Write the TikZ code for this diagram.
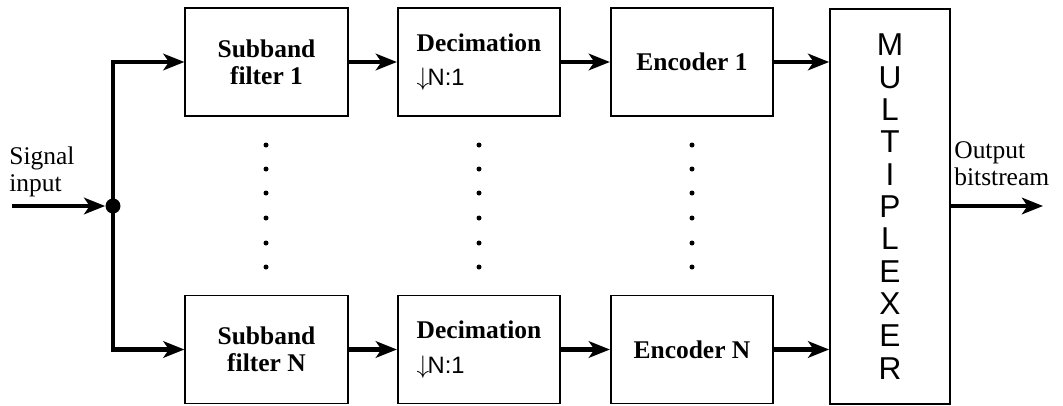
\documentclass[tikz,border=0pt]{standalone}
\usepackage{fontspec}
\setmainfont{Liberation Serif}
\setsansfont{Liberation Sans}
\usetikzlibrary{arrows.meta,positioning}

\begin{document}
\begin{tikzpicture}[
  >={Stealth[length=4.2mm,width=3.3mm,inset=1.1mm]},
  every node/.style={font=\fontsize{14.5}{15.5}\selectfont},
  block/.style={draw, line width=1pt, minimum width=3.25cm,
                minimum height=2.16cm, align=center,
                font=\fontsize{14.5}{15.5}\selectfont\bfseries},
  decim/.style={block, align=left},
  flow/.style={->, line width=2.8pt}
]
  \useasboundingbox (0,0) rectangle (21.26,8.1);

  \node[block] (sub1) at (5.33, 6.86) {Subband\\filter 1};
  \node[decim] (dec1) at (9.58, 6.86) {Decimation\\[4pt]{\fontsize{13.5}{14}\selectfont\mdseries\sffamily\(\downarrow\)\kern-1ptN:1}};
  \node[block] (enc1) at (13.84, 6.86) {Encoder 1};
  \node[block] (subN) at (5.33, 1.11) {Subband\\filter N};
  \node[decim] (decN) at (9.58, 1.11) {Decimation\\[4pt]{\fontsize{13.5}{14}\selectfont\mdseries\sffamily\(\downarrow\)\kern-1ptN:1}};
  \node[block] (encN) at (13.84, 1.11) {Encoder N};
  \node[draw, line width=1pt, minimum width=2.4cm, minimum height=7.9cm,
        align=center, font=\fontsize{18}{18.4}\selectfont\sffamily]
        (mux) at (17.8, 3.97) {M\\U\\L\\T\\I\\P\\L\\E\\X\\E\\R};

  \coordinate (in) at (0.24, 3.98);
  \coordinate (out) at (20.86, 3.98);
  \node[circle, fill, inner sep=0pt, minimum size=3mm] (j) at (2.26, 3.98) {};

  \node[anchor=south west, align=left, inner sep=0pt] (sig) at (0.18, 4.15) {Signal\\input};
  \node[anchor=south west, align=left, inner sep=0pt] (obs) at (19.08, 4.38) {Output\\bitstream};

  \draw[flow] (in) -- (j);
  \draw[flow] (j.center) |- (sub1.west);
  \draw[flow] (j.center) |- (subN.west);
  \draw[flow] (sub1) -- (dec1);
  \draw[flow] (dec1) -- (enc1);
  \draw[flow] (enc1) -- (enc1 -| mux.west);
  \draw[flow] (subN) -- (decN);
  \draw[flow] (decN) -- (encN);
  \draw[flow] (encN) -- (encN -| mux.west);
  \draw[flow] (mux.east |- out) -- (out);

  % vertical dots between the rows
  \foreach \x in {5.32, 9.58, 13.84}
    \foreach \y in {5.2, 4.72, 4.24, 3.74, 3.24, 2.76}
      \fill (\x, \y) circle (0.05);
\end{tikzpicture}
\end{document}
